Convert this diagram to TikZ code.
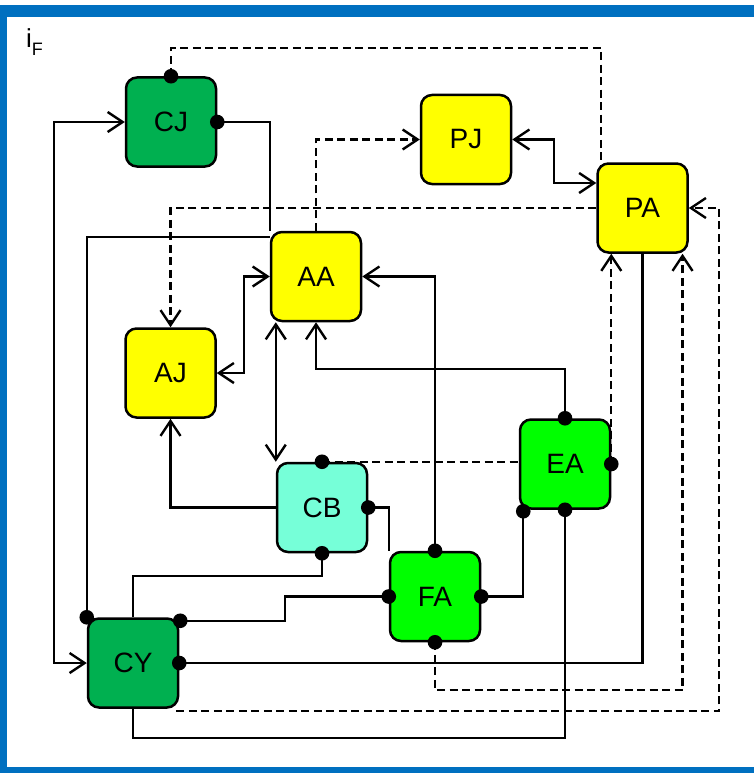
\documentclass[tikz,border=0pt]{standalone}
\usepackage{fontspec}
\setmainfont{Liberation Sans}
\usetikzlibrary{arrows.meta,calc,backgrounds}
\definecolor{frameblue}{HTML}{0070C0}
\definecolor{dkgreen}{HTML}{00B050}
\definecolor{ltgreen}{HTML}{00FF00}
\definecolor{aquab}{HTML}{76FFD8}
\definecolor{yel}{HTML}{FFFF00}
\begin{document}
\begin{tikzpicture}[x=1pt,y=-1pt,
  box/.style={draw,line width=2.5pt,rounded corners=11pt,minimum width=90pt,minimum height=89pt,inner sep=0pt,font=\fontsize{28}{30}\selectfont},
  conn/.style={line width=2.4pt},
  dsh/.style={conn,dash pattern=on 8pt off 4.5pt},
  >={Straight Barb[length=15pt,width=20pt]},
  dotr/.style={fill=black}
]
\useasboundingbox (0,0) rectangle (754,773);
\fill[frameblue] (0,5) rectangle (754,17);
\fill[frameblue] (0,5) rectangle (7,773);
\fill[frameblue] (0,767) rectangle (754,773);

\node[anchor=base west,inner sep=0pt,font=\fontsize{26}{26}\selectfont] (lbl) at (26,48) {i\raisebox{-8pt}{\fontsize{18}{18}\selectfont F}};

\node[box,fill=dkgreen] (CJ) at (171,122) {CJ};
\node[box,fill=yel] (PJ) at (466,139.5) {PJ};
\node[box,fill=yel] (PA) at (642.5,208) {PA};
\node[box,fill=yel] (AA) at (316,276.5) {AA};
\node[box,fill=yel] (AJ) at (170.5,373) {AJ};
\node[box,fill=aquab] (CB) at (322,507.5) {CB};
\node[box,fill=ltgreen] (EA) at (565,464) {EA};
\node[box,fill=ltgreen] (FA) at (435,596.5) {FA};
\node[box,fill=dkgreen] (CY) at (133,663) {CY};

\coordinate (t1) at (601,48);
\coordinate (cyne) at ($(CY.north east)+(1,3.5)$);
\coordinate (easw) at ($(EA.south west)+(4.5,1.5)$);
\coordinate (cyse) at ($(CY.south east)+(-3,2.5)$);

\begin{pgfonlayer}{background}
\draw[dsh] (CJ.north) |- (t1) -- (t1 |- PA.center);
\draw[conn] (CJ.east) -| (AA.north west);
\draw[conn] (CY.north west) |- ($(AA.north west)+(0,6)$);
\draw[conn,<->] (AA.west) -| ($(AJ.east)+(27,0)$) -- (AJ.east);
\draw[conn,<->] (CB.north west |- AA.south) -- (CB.north west);
\draw[dsh,->] (AA.north) |- (PJ.west);
\draw[conn,<->] (PJ.east) -- ++(42,0) |- ($(PA.west)+(0,-25)$);
\draw[dsh,->] (PA.west) -| (AJ.north);
\draw[conn,->] (CB.west) -| (AJ.south);
\draw[conn,->] (EA.north) -- ++(0,-49) -| (AA.south);
\draw[conn,->] (FA.north) |- (AA.east);
\draw[dsh] (CB.north) -- (CB.north -| EA.west);
\draw[conn] (CB.east) -| (FA.north west);
\draw[conn] (CB.south) -- ++(0,23) -| (CY.north);
\draw[conn] (cyne) -- ++(105,0) |- (FA.west);
\draw[conn] (CY.east) -| (PA.south);
\draw[conn] (FA.east) -| (easw);
\draw[conn] (EA.south) -- ++(0,228) -| (CY.south);
\draw[dsh,->] (EA.east) -- (EA.east |- PA.south);
\draw[dsh,->] (FA.south) -- ++(0,48) -| ($(PA.south)+(40,0)$);
\draw[dsh,->] (cyse) -- ++(543,0) |- (PA.east);
\draw[conn,<->] (CJ.west) -- ++(-71,0) |- (CY.west);
\end{pgfonlayer}

\foreach \p in {CJ.north,CJ.east,CY.north west,cyne,CY.east,CB.north,CB.east,CB.south,FA.north,FA.west,FA.east,FA.south,EA.north,EA.east,easw,EA.south}
  \fill[dotr] (\p) circle (7.3pt);
\end{tikzpicture}
\end{document}
